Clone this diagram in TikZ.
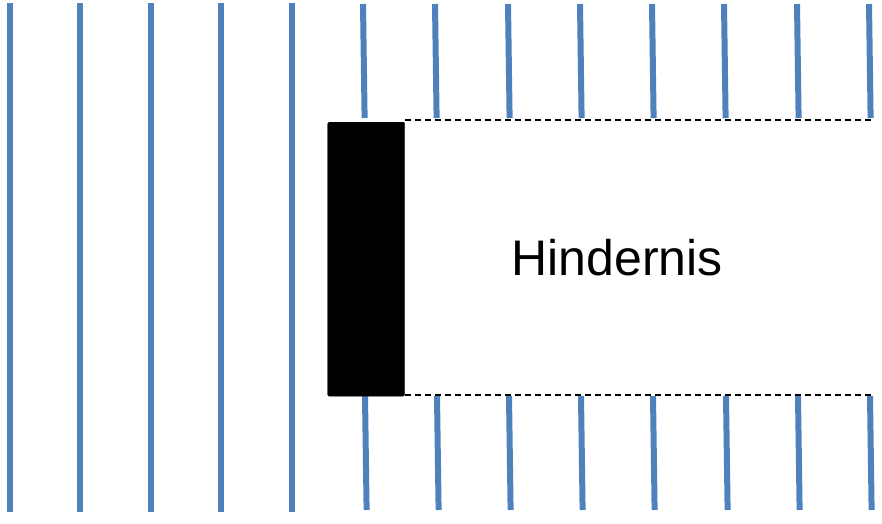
\documentclass[tikz,border=0pt]{standalone}
\usepackage{fontspec}
\setmainfont{Liberation Sans}
\definecolor{wave}{HTML}{4F81BD}
\begin{document}
\begin{tikzpicture}[x=1pt,y=-1pt,
  waveline/.style={draw=wave,line width=6pt},
  edge/.style={draw=black,line width=1.2pt,dash pattern=on 6pt off 4pt}]
\useasboundingbox (0,0) rectangle (882,523);
% full lines left of obstacle
\foreach \x in {10,80,151,221,292}{
  \draw[waveline] (\x,3) -- (\x,512);
}
% upper partial lines
\foreach \x in {363,435,508,580,652,724,797,869}{
  \draw[waveline] (\x,4) -- ({\x+1.6},118);
}
% lower partial lines
\foreach \x in {365,437,509,581,653,726,798,870}{
  \draw[waveline] (\x,396) -- ({\x+1.6},510);
}
% dashed boundaries
\coordinate (tl) at (405,120);
\coordinate (tr) at (872,120);
\coordinate (bl) at (405,395);
\coordinate (br) at (872,395);
\draw[edge] (tl) -- (tr);
\draw[edge] (bl) -- (br);
% obstacle
\node[fill=black,draw=black,rounded corners=1.5pt,minimum width=77pt,minimum height=274pt,inner sep=0pt,anchor=north west] (obst) at (327.5,122) {};
\node[font=\fontsize{50}{56}\selectfont] (label) at (617,258) {Hindernis};
\end{tikzpicture}
\end{document}
